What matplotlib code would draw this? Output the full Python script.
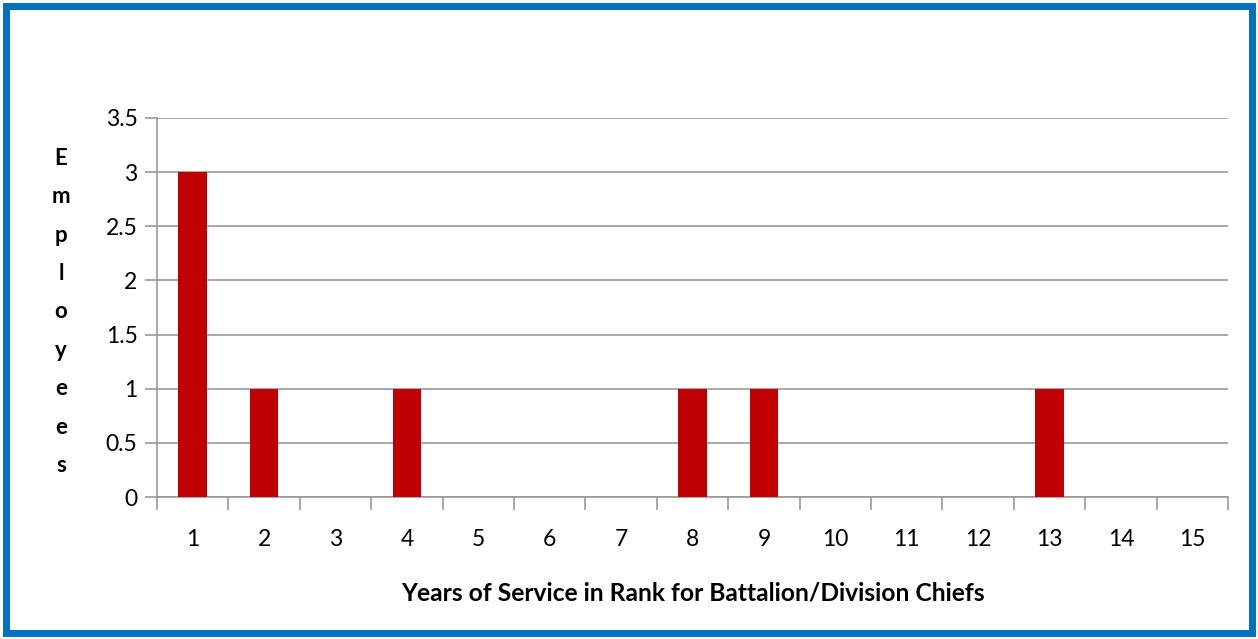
import numpy as np
import matplotlib.pyplot as plt
from matplotlib.patches import Rectangle

# years of service in rank (categories) and employee counts
years = [str(i) for i in range(1, 16)]
employees = [3, 1, 0, 1, 0, 0, 0, 1, 1, 0, 0, 0, 1, 0, 0]
yticks = [0, 0.5, 1, 1.5, 2, 2.5, 3, 3.5]
ytick_labels = ['0', '0.5', '1', '1.5', '2', '2.5', '3', '3.5']

plt.rcParams['font.family'] = ['Lato', 'DejaVu Sans']

fig = plt.figure(figsize=(12.58, 6.39), dpi=100)
ax = fig.add_axes([157/1258, 1 - 497/639, (1228-157)/1258, (497-118)/639])

x = np.arange(len(years))
ax.bar(x, employees, width=0.4, color='#C00000', zorder=3)

ax.set_xlim(-0.5, len(years) - 0.5)
ax.set_ylim(0, 3.5)
ax.set_yticks(yticks)
ax.set_yticklabels(ytick_labels, fontsize=16.5)
ax.yaxis.grid(True, color='#999999', linewidth=1.2, zorder=0)

# category labels at the centres, tick marks at the boundaries
ax.set_xticks(x)
ax.set_xticklabels(years, fontsize=16.5)
ax.tick_params(axis='x', length=0, pad=23)
ax.set_xticks(np.arange(len(years) + 1) - 0.5, minor=True)
ax.tick_params(axis='x', which='minor', length=9, width=1.2, color='#999999', direction='out')
ax.tick_params(axis='y', length=9, width=1.2, color='#999999', pad=5)

for s in ['top', 'right']:
    ax.spines[s].set_visible(False)
for s in ['left', 'bottom']:
    ax.spines[s].set_color('#999999')
    ax.spines[s].set_linewidth(1.2)

ax.set_xlabel('Years of Service in Rank for Battalion/Division Chiefs',
              fontsize=17.7, fontweight='bold', labelpad=23)

fig.text(61/1258, 1 - 312/639, '\n'.join('Employees'), fontsize=16, fontweight='bold',
         ha='center', va='center', linespacing=2.02)

# blue frame around the chart
fig.patches.append(Rectangle((6/1258, 6/639), 1 - 12/1258, 1 - 12/639,
                             transform=fig.transFigure, fill=False,
                             edgecolor='#0070C0', linewidth=5))

fig.savefig('out.png', dpi=100)
